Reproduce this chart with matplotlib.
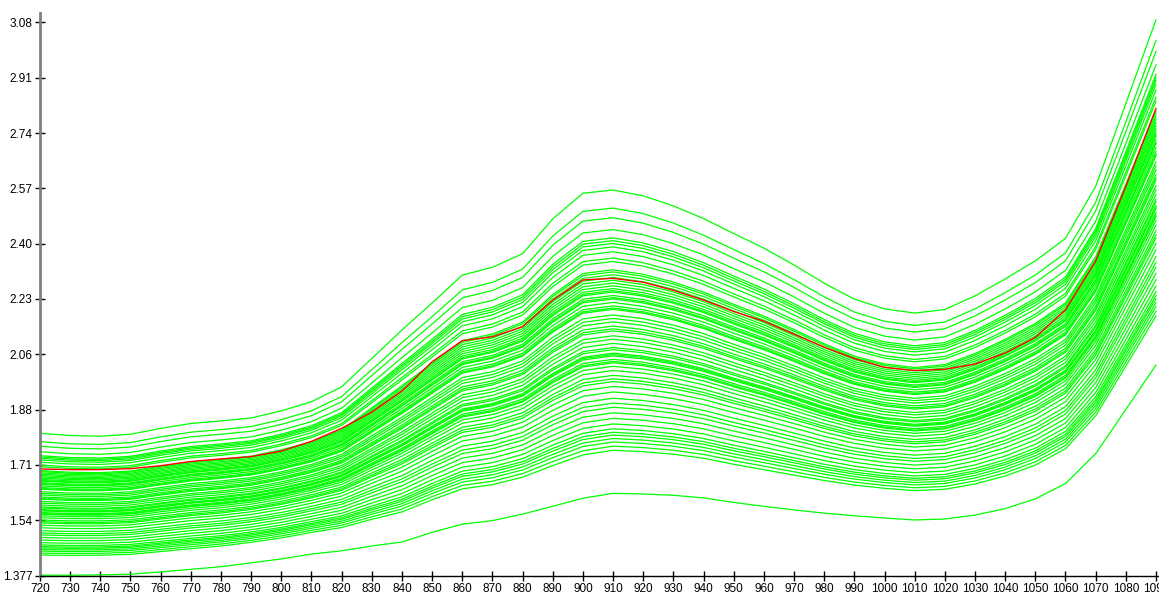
import matplotlib
matplotlib.use("Agg")
import matplotlib.pyplot as plt
import numpy as np

# wavelengths (nm), one reading every 10 nm
wavelengths = list(range(720, 1100, 10))

# upper and lower envelope spectra
top_line = [1.815, 1.808, 1.806, 1.812, 1.830, 1.845, 1.853, 1.862, 1.884, 1.912,
            1.958, 2.045, 2.133, 2.216, 2.302, 2.326, 2.368, 2.475, 2.554, 2.564,
            2.546, 2.515, 2.476, 2.430, 2.385, 2.333, 2.277, 2.228, 2.198, 2.185,
            2.196, 2.238, 2.290, 2.346, 2.415, 2.575, 2.830, 3.088]
bottom_line = [1.378, 1.378, 1.379, 1.381, 1.388, 1.396, 1.404, 1.416, 1.428, 1.443,
               1.453, 1.468, 1.480, 1.510, 1.535, 1.546, 1.566, 1.590, 1.615, 1.630,
               1.628, 1.624, 1.616, 1.602, 1.590, 1.579, 1.569, 1.561, 1.554, 1.548,
               1.551, 1.563, 1.583, 1.613, 1.660, 1.752, 1.888, 2.025]
# highlighted spectrum
red_line = [1.705, 1.703, 1.703, 1.706, 1.715, 1.728, 1.736, 1.743, 1.760, 1.790,
            1.830, 1.880, 1.945, 2.035, 2.100, 2.112, 2.143, 2.225, 2.287, 2.292,
            2.280, 2.255, 2.225, 2.190, 2.160, 2.120, 2.080, 2.045, 2.018, 2.008,
            2.012, 2.028, 2.062, 2.110, 2.195, 2.345, 2.575, 2.815]

# the other spectra, given by where they start at 720 nm
start_vals = [1.789, 1.775, 1.758, 1.746, 1.742, 1.738, 1.733, 1.726, 1.717, 1.712,
              1.700, 1.697, 1.693, 1.689, 1.685, 1.681, 1.677, 1.673, 1.670, 1.668,
              1.663, 1.660, 1.658, 1.653, 1.648, 1.645, 1.643, 1.635, 1.630, 1.625,
              1.619, 1.615, 1.612, 1.605, 1.600, 1.594, 1.588, 1.585, 1.580, 1.578,
              1.576, 1.571, 1.568, 1.566, 1.561, 1.555, 1.548, 1.543, 1.539, 1.532,
              1.524, 1.515, 1.508, 1.502, 1.494, 1.486, 1.478, 1.471, 1.466, 1.462,
              1.457, 1.452, 1.446, 1.440]

ytick_vals = np.linspace(1.377, 3.08, 11)
ytick_labels = ["1.377", "1.54", "1.71", "1.88", "2.06", "2.23", "2.40", "2.57", "2.74", "2.91", "3.08"]

fig = plt.figure(figsize=(11.59, 5.93), dpi=100)
ax = fig.add_axes([40 / 1159, 17.5 / 593, 1119 / 1159, 562.5 / 593])

top = np.array(top_line)
bot = np.array(bottom_line)
for v in start_vals:
    t = (v - bot[0]) / (top[0] - bot[0])
    ax.plot(wavelengths, bot + t * (top - bot), color="#00ff00", lw=0.9)
ax.plot(wavelengths, top_line, color="#00ff00", lw=0.9)
ax.plot(wavelengths, bottom_line, color="#00ff00", lw=0.9)
ax.plot(wavelengths, red_line, color="#ff0000", lw=1.0)

ax.set_xlim(720, 1091)
ax.set_ylim(1.377, 3.109)
ax.set_xticks(list(range(720, 1100, 10)))
ax.set_yticks(ytick_vals)
ax.set_yticklabels(ytick_labels)

fam = ["Liberation Sans Narrow", "Liberation Sans", "DejaVu Sans"]
for lab in ax.get_xticklabels() + ax.get_yticklabels():
    lab.set_family(fam)
    lab.set_fontsize(8.5)

ax.spines["top"].set_visible(False)
ax.spines["right"].set_visible(False)
ax.spines["left"].set_color("#808080")
ax.spines["left"].set_linewidth(2)
ax.spines["bottom"].set_color("black")
ax.spines["bottom"].set_linewidth(1)
ax.tick_params(axis="both", direction="inout", length=7, width=1, color="black", pad=2)

fig.savefig("out.png", dpi=100)
